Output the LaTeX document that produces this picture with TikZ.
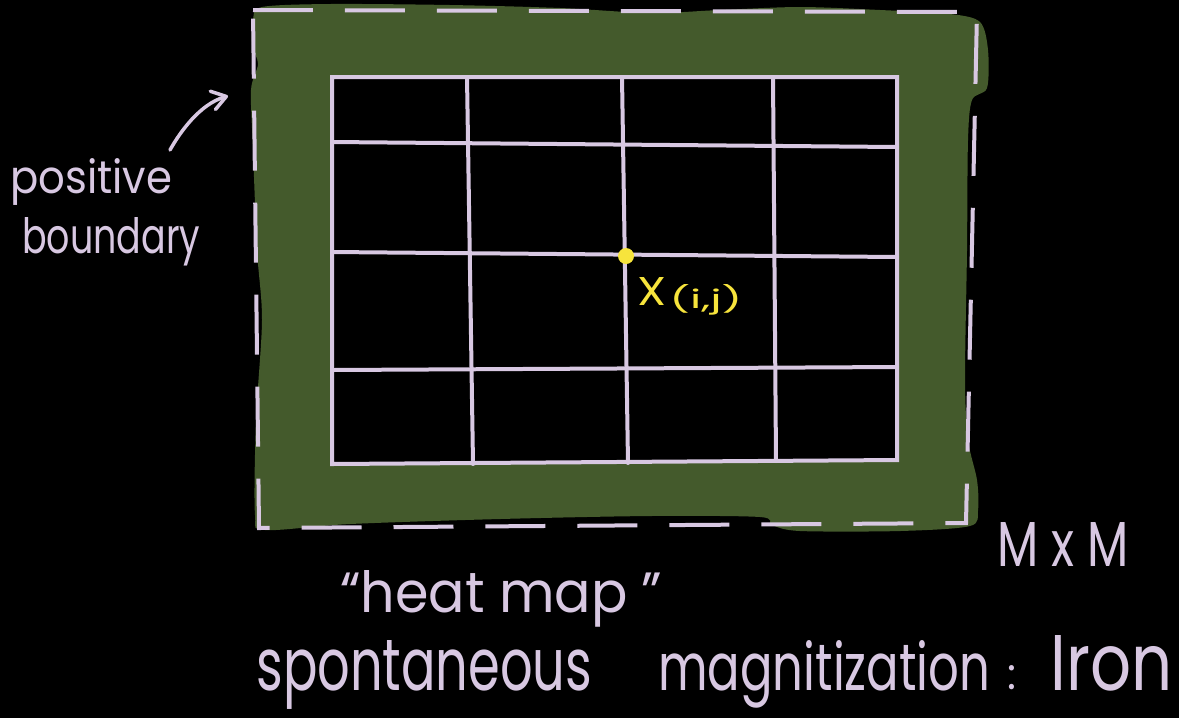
\documentclass[tikz,border=0pt]{standalone}
\usepackage{fontspec}
\setmainfont{Poppins}
\usetikzlibrary{arrows.meta}
\definecolor{bgreen}{RGB}{68,90,44}
\definecolor{lav}{RGB}{216,200,226}
\definecolor{ylw}{RGB}{247,228,60}
\begin{document}
\begin{tikzpicture}[x={(0.02cm,0)},y={(0,-0.02cm)},
  gridline/.style={draw=lav,line width=0.08cm,line cap=round},
  dashline/.style={draw=lav,line width=0.08cm,dash pattern=on 1.2cm off 0.64cm},
  txt/.style={text=lav,inner sep=0pt,anchor=base west},
  ytxt/.style={text=ylw,inner sep=0pt,anchor=base west},
  arrowline/.style={draw=lav,line width=0.07cm,line cap=round,-{Straight Barb[length=0.28cm,width=0.38cm,round]}}]
\useasboundingbox[fill=black] (0,0) rectangle (1179,718);
% green boundary blob
\fill[bgreen] plot[smooth cycle,tension=0.5] coordinates{
 (262,7) (330,4) (450,5) (560,8) (650,13) (720,10) (800,7) (880,10) (950,14) (980,22)
 (988,50) (987,88) (972,100) (968,140) (967,250) (965,380) (968,440) (977,480) (978,510)
 (970,526) (900,531) (800,531) (772,525) (760,517) (650,516) (500,519) (350,524) (265,530)
 (255,515) (256,420) (262,320) (257,250) (253,150) (251,90) (258,64) (252,45) (253,20)};
% grid corners
\coordinate (g00) at (332,77);  \coordinate (g40) at (897,77);
\coordinate (g04) at (332,464); \coordinate (g44) at (897,460);
\fill[black] (g00) -- (g40) -- (g44) -- (g04) -- cycle;
% dashed outer rectangle
\coordinate (d1) at (253,10); \coordinate (d2) at (977,12);
\coordinate (d3) at (966,523); \coordinate (d4) at (259,528);
\draw[dashline] (d1) -- (d2) -- (d3) -- (d4) -- cycle;
% horizontal grid lines
\coordinate (h1a) at (332,142); \coordinate (h1b) at (897,147);
\coordinate (h2a) at (332,252); \coordinate (h2b) at (897,257);
\coordinate (h3a) at (332,370); \coordinate (h3b) at (897,367);
% vertical grid lines
\coordinate (v1a) at (467,77); \coordinate (v1b) at (473,464);
\coordinate (v2a) at (622,77); \coordinate (v2b) at (628,463);
\coordinate (v3a) at (773,77); \coordinate (v3b) at (776,461);
\draw[gridline] (g00) -- (g40) -- (g44) -- (g04) -- cycle;
\draw[gridline] (h1a) -- (h1b);
\draw[gridline] (h2a) -- (h2b);
\draw[gridline] (h3a) -- (h3b);
\draw[gridline] (v1a) -- (v1b);
\draw[gridline] (v2a) -- (v2b);
\draw[gridline] (v3a) -- (v3b);
% point
\node[circle,fill=ylw,minimum size=0.32cm,inner sep=0pt] (dot) at (626,256) {};
\node[ytxt] (xlab) at (637,305) {\resizebox{0.58cm}{0.56cm}{X}};
\node[ytxt] (ijlab) at (669,308) {\resizebox{1.46cm}{0.48cm}{(i,j)}};
% labels
\node[txt] (pos) at (10,193) {\resizebox{3.24cm}{0.70cm}{positive}};
\node[txt] (bnd) at (22,253) {\resizebox{3.56cm}{0.72cm}{boundary}};
\coordinate (as) at (170,150);
\coordinate (ae) at (228,96);
\draw[arrowline] (as) .. controls (180,132) and (200,104) .. (ae);
\node[txt] (mm) at (997,566) {\resizebox{2.62cm}{0.88cm}{M x M}};
\node[txt] (heat) at (340,612) {\resizebox{6.44cm}{0.84cm}{“heat map ”}};
\node[txt] (spon) at (256,690) {\resizebox{6.72cm}{1.00cm}{spontaneous}};
\node[txt] (magn) at (658,690) {\resizebox{6.64cm}{1.00cm}{magnitization}};
\node[txt] (colon) at (1007,689) {\resizebox{0.18cm}{0.48cm}{:}};
\node[txt] (iron) at (1050,690) {\resizebox{2.44cm}{1.10cm}{Iron}};
\end{tikzpicture}
\end{document}
